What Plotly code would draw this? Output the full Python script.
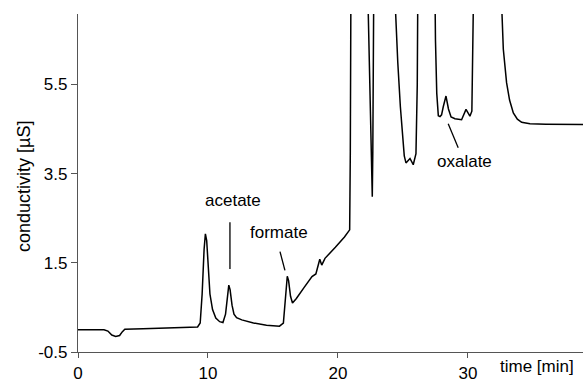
import plotly.graph_objects as go

# chromatogram (time in min, conductivity in µS); 8.0 = off scale
time_min = [0, 2.0, 2.3, 2.6, 2.9, 3.2, 3.4, 3.6, 5.0, 7.0, 9.2, 9.4, 9.55, 9.7, 9.8, 9.9,
            10.0, 10.15, 10.35, 10.6, 10.9, 11.15, 11.35, 11.5, 11.6, 11.7, 11.85, 12.0,
            12.2, 12.6, 13.5, 14.5, 15.5, 15.8, 15.95, 16.1, 16.2, 16.35, 16.5, 16.8,
            17.4, 18.0, 18.3, 18.5, 18.6, 18.75, 19.0, 19.8, 20.5, 20.9, 20.95, 21.0,
            22.2, 22.3, 22.4, 22.5, 22.6, 22.64, 22.68, 22.72, 22.76,
            24.3, 24.4, 24.6, 24.8, 24.95, 25.1, 25.23, 25.54, 25.79, 26.0, 26.1, 26.15,
            27.45, 27.5, 27.6, 27.72, 27.85, 27.97, 28.1, 28.31, 28.5, 28.7, 29.0, 29.51,
            29.85, 30.15, 30.3, 30.4, 30.45,
            32.5, 32.59, 32.72, 32.97, 33.2, 33.49, 33.8, 34.13, 34.77, 36.0, 38.85]
conductivity = [0.0, 0.0, -0.03, -0.12, -0.15, -0.13, -0.05, 0.01, 0.02, 0.04, 0.06, 0.15, 0.8, 1.8, 2.15, 2.0,
                1.4, 0.8, 0.45, 0.26, 0.18, 0.16, 0.35, 0.8, 1.0, 0.9, 0.55, 0.35,
                0.27, 0.22, 0.15, 0.1, 0.08, 0.15, 0.6, 1.2, 1.1, 0.75, 0.6, 0.7,
                0.95, 1.19, 1.25, 1.45, 1.58, 1.45, 1.6, 1.85, 2.08, 2.24, 4.0, 8.0,
                8.0, 7.5, 6.0, 4.5, 3.2, 2.98, 4.0, 6.5, 8.0,
                8.0, 7.2, 6.0, 5.0, 4.4, 3.9, 3.74, 3.84, 3.70, 3.95, 5.5, 8.0,
                8.0, 6.5, 5.3, 4.8, 4.78, 4.82, 5.0, 5.24, 4.95, 4.77, 4.73, 4.71,
                4.94, 4.79, 4.9, 6.5, 8.0,
                8.0, 7.2, 6.29, 5.54, 5.15, 4.86, 4.72, 4.65, 4.62, 4.61, 4.6]

x_ticks = [0, 10, 20, 30]
y_ticks = [-0.5, 1.5, 3.5, 5.5]
y_tick_text = ["-0.5", "1.5", "3.5", "5.5"]

# peak labels: (text, text x, text y, pointer x0, y0, x1, y1)
labels = [
    ("acetate", 11.92, 2.89, 11.69, 2.41, 11.69, 1.36),
    ("formate", 15.48, 2.17, 15.54, 1.75, 15.92, 1.33),
    ("oxalate", 29.77, 3.78, 28.48, 4.62, 29.25, 4.08),
]

FONT = "Liberation Sans, Arial, sans-serif"

fig = go.Figure()
fig.add_trace(go.Scatter(x=time_min, y=conductivity, mode="lines",
                         line=dict(color="black", width=1.5), hoverinfo="skip"))

for text, tx, ty, x0, y0, x1, y1 in labels:
    fig.add_annotation(x=tx, y=ty, text=text, showarrow=False, xref="x", yref="y",
                       font=dict(size=17, color="black", family=FONT))
    fig.add_shape(type="line", x0=x0, y0=y0, x1=x1, y1=y1, xref="x", yref="y",
                  line=dict(color="black", width=1.3))

fig.add_annotation(x=1.0, y=0, xref="paper", yref="paper", xanchor="right", yanchor="top",
                   yshift=-3, xshift=-7, text="time [min]", showarrow=False,
                   font=dict(size=17, color="black", family=FONT))
fig.add_annotation(x=0, y=0.5, xref="paper", yref="paper", xanchor="center", yanchor="middle",
                   xshift=-54, yshift=-4, text="conductivity [µS]", showarrow=False, textangle=-90,
                   font=dict(size=18, color="black", family=FONT))

fig.update_layout(
    width=583, height=382,
    margin=dict(l=78, r=0, t=14, b=30, autoexpand=False),
    paper_bgcolor="white", plot_bgcolor="white",
    showlegend=False,
    xaxis=dict(range=[0, 38.85], tickvals=x_ticks, ticktext=[str(v) for v in x_ticks],
               showgrid=False, zeroline=False, showline=True, linecolor="#555", linewidth=1.2,
               ticks="outside", ticklen=5, tickcolor="#555", tickwidth=1.2,
               tickfont=dict(size=17, color="black", family=FONT)),
    yaxis=dict(range=[-0.5, 7.08], tickvals=y_ticks, ticktext=y_tick_text,
               showgrid=False, zeroline=False, showline=True, linecolor="#555", linewidth=1.2,
               ticks="outside", ticklen=6, tickcolor="#555", tickwidth=1.2,
               tickfont=dict(size=17, color="black", family=FONT)),
)

fig.write_html("out.html", config={"displayModeBar": False},
               post_script="document.body.style.margin='0';document.body.style.padding='0';"
                           "document.body.style.overflow='hidden';")
